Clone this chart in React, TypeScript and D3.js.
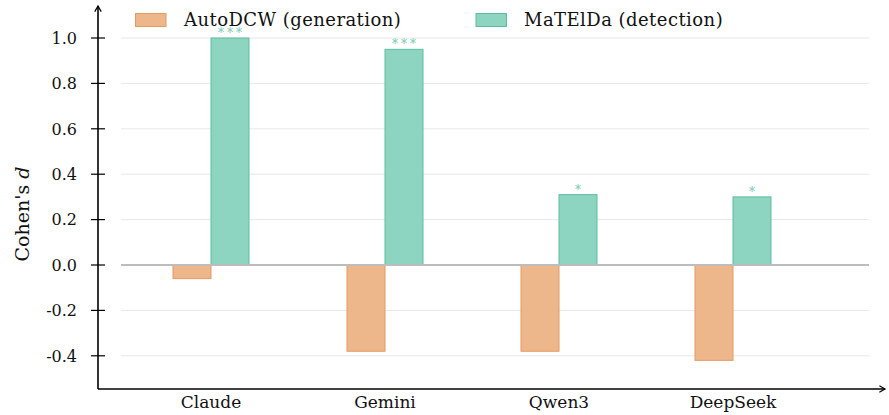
import React from "react";
import * as d3 from "d3";

const categories = ["Claude", "Gemini", "Qwen3", "DeepSeek"];
const seriesNames = ["AutoDCW (generation)", "MaTElDa (detection)"];
const autoDCW = [-0.06, -0.38, -0.38, -0.42];
const matelda = [1.0, 0.95, 0.31, 0.3];
const stars = ["***", "***", "*", "*"];
const yTicks = [-0.4, -0.2, 0.0, 0.2, 0.4, 0.6, 0.8, 1.0];

const W = 889;
const H = 415;
const FONT = "DejaVu Serif";
const ORANGE_FILL = "#EDB78B";
const ORANGE_STROKE = "#E59A62";
const GREEN_FILL = "#8DD4C1";
const GREEN_STROKE = "#5CBE9E";
const STAR = "#74CBAF";

export default function App() {
  const y = d3.scaleLinear().domain([0, 1]).range([265, 38]);
  const x = d3.scaleBand<string>().domain(categories).range([124, 820]).paddingInner(0);
  const barW = 38;
  const axisX = 98;
  const axisY = 389;
  const gridX0 = 121;
  const gridX1 = 869;

  return (
    <svg width={W} height={H} style={{ position: "absolute", left: 0, top: 0, fontFamily: FONT }}>
      <defs>
        <marker id="arrow" viewBox="0 0 10 10" refX="8" refY="5" markerWidth="8" markerHeight="8" orient="auto-start-reverse" markerUnits="userSpaceOnUse">
          <path d="M1,1 L8,5 L1,9" fill="none" stroke="#000" strokeWidth={1.5} />
        </marker>
      </defs>
      {yTicks.filter((t) => t !== 0).map((t) => (
        <line key={t} x1={gridX0} x2={gridX1} y1={y(t)} y2={y(t)} stroke="#e8e8e8" strokeWidth={1} />
      ))}
      {categories.map((c, i) => {
        const cx = (x(c) as number) + x.bandwidth() / 2;
        const a = autoDCW[i];
        const m = matelda[i];
        return (
          <g key={c}>
            <rect x={cx - barW} y={Math.min(y(a), y(0))} width={barW} height={Math.abs(y(a) - y(0))} fill={ORANGE_FILL} stroke={ORANGE_STROKE} strokeWidth={1} />
            <rect x={cx} y={Math.min(y(m), y(0))} width={barW} height={Math.abs(y(m) - y(0))} fill={GREEN_FILL} stroke={GREEN_STROKE} strokeWidth={1} />
            <text x={cx + barW / 2 + 1.5} y={y(m) - 1} textAnchor="middle" fontSize={12} letterSpacing={3} fill={STAR} style={{ fontFamily: FONT }}>{stars[i]}</text>
          </g>
        );
      })}
      <line x1={gridX0} x2={gridX1} y1={y(0)} y2={y(0)} stroke="#bdbdbd" strokeWidth={2} />
      <line x1={axisX} x2={axisX} y1={axisY} y2={6} stroke="#000" strokeWidth={1.6} markerEnd="url(#arrow)" />
      <line x1={axisX} x2={885} y1={axisY} y2={axisY} stroke="#000" strokeWidth={1.6} markerEnd="url(#arrow)" />
      {yTicks.map((t) => (
        <g key={t}>
          <line x1={axisX - 7} x2={axisX + 7} y1={y(t)} y2={y(t)} stroke="#000" strokeWidth={1.2} />
          <text x={77} y={y(t)} dy="0.36em" textAnchor="end" fontSize={16} fill="#111" style={{ fontFamily: FONT }}>{t.toFixed(1)}</text>
        </g>
      ))}
      {categories.map((c) => (
        <text key={c} x={(x(c) as number) + x.bandwidth() / 2} y={408} textAnchor="middle" fontSize={17} fill="#111" style={{ fontFamily: FONT }}>{c}</text>
      ))}
      <text transform={`translate(29,214) rotate(-90)`} textAnchor="middle" fontSize={19} fill="#111" style={{ fontFamily: FONT }}>
        Cohen's <tspan fontStyle="italic">d</tspan>
      </text>
      <rect x={135.5} y={13.5} width={30.5} height={13} fill={ORANGE_FILL} stroke={ORANGE_STROKE} strokeWidth={1} />
      <text x={184} y={26} fontSize={18} letterSpacing={0.45} fill="#111" style={{ fontFamily: FONT }}>{seriesNames[0]}</text>
      <rect x={476} y={13.5} width={30.5} height={13} fill={GREEN_FILL} stroke={GREEN_STROKE} strokeWidth={1} />
      <text x={524} y={26} fontSize={18} letterSpacing={0.45} fill="#111" style={{ fontFamily: FONT }}>{seriesNames[1]}</text>
    </svg>
  );
}
